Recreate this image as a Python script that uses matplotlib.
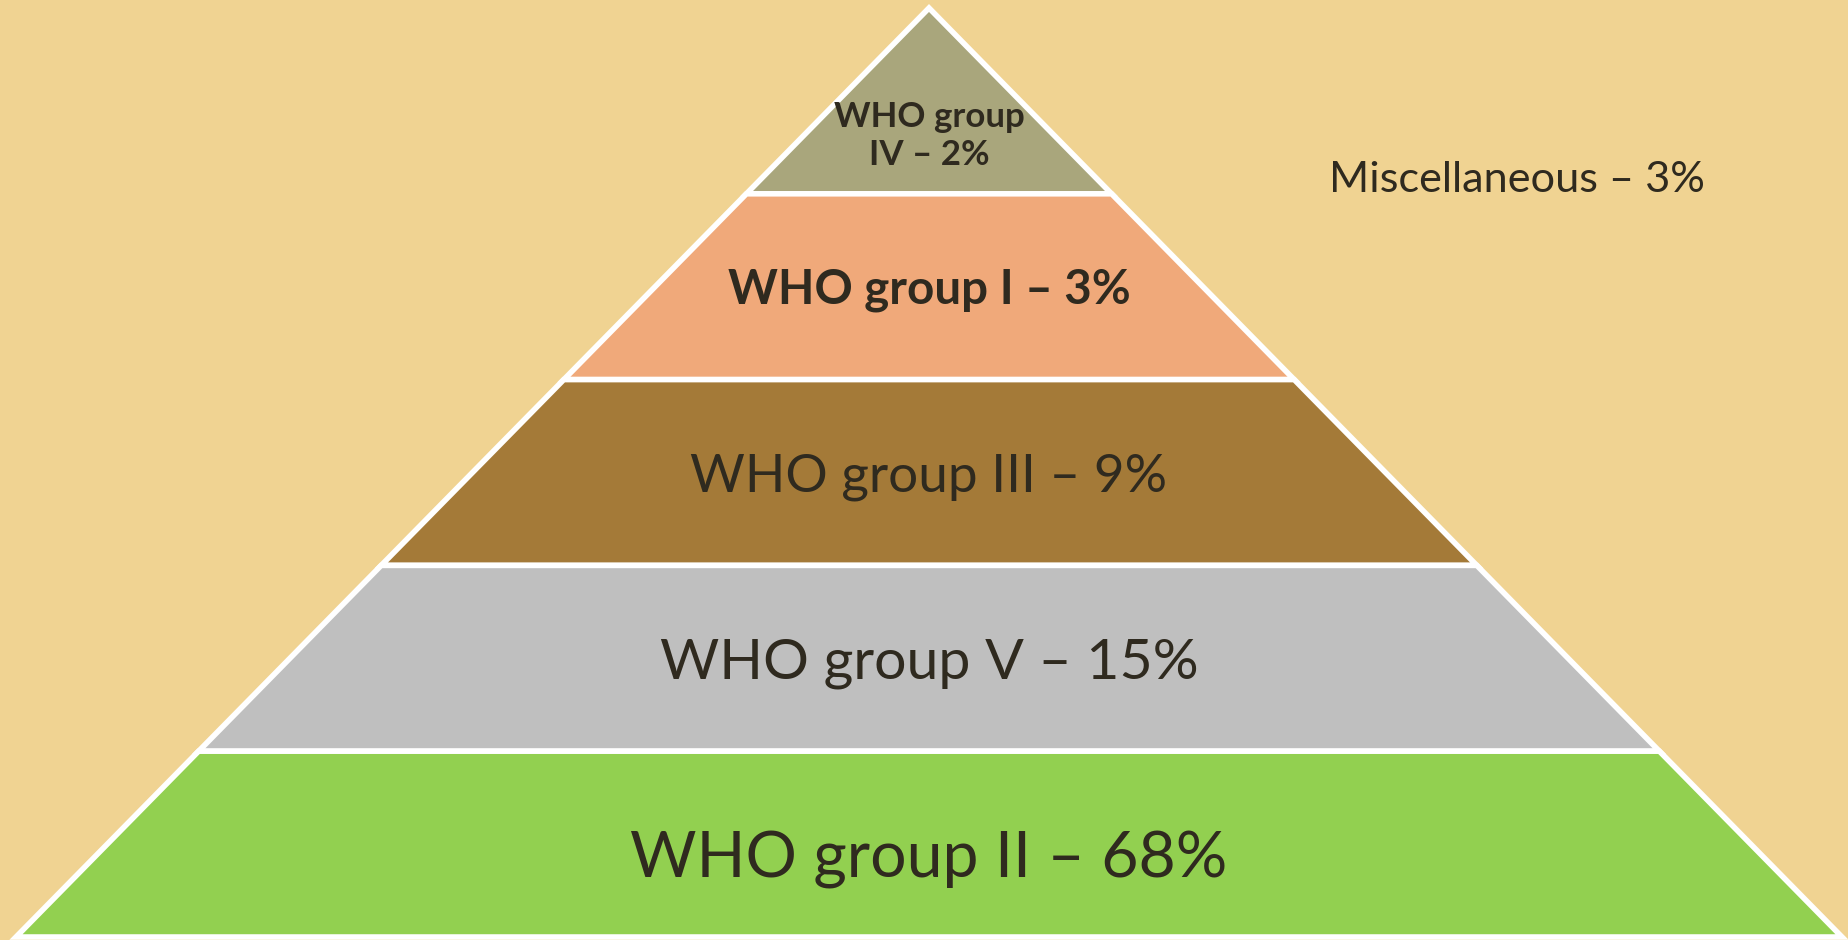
import matplotlib.pyplot as plt

# layers from the top of the pyramid down
groups = ["IV", "I", "III", "V", "II"]
shares = [2, 3, 9, 15, 68]
misc_share = 3

colors = ["#A9A67C", "#F0A97A", "#A47A38", "#BFBFBF", "#92D050"]
bold = [True, True, False, False, False]
cap_px = [25, 34, 38, 41, 46]   # cap height of each label in pixels
bg = "#F0D392"
txt = "#2F2A1F"

W, H = 1849, 940
fig = plt.figure(figsize=(W / 100, H / 100), dpi=100)
fig.patch.set_facecolor(bg)
ax = fig.add_axes([0, 0, 1, 1])
ax.set_xlim(0, W)
ax.set_ylim(H, 0)
ax.axis("off")

apex_x, apex_y = 929, 8
base_y, half_base = 937, 913
band_h = (base_y - apex_y) / len(groups)


def half_width(y):
    return (y - apex_y) * half_base / (base_y - apex_y)


def px2pt(p):
    # cap height in px -> Lato font size in points
    return p / 0.7165 * 0.72


for i, (g, s) in enumerate(zip(groups, shares)):
    y0 = apex_y + i * band_h
    y1 = y0 + band_h
    w0, w1 = half_width(y0), half_width(y1)
    xs = [apex_x - w0, apex_x + w0, apex_x + w1, apex_x - w1]
    ys = [y0, y0, y1, y1]
    ax.fill(xs, ys, facecolor=colors[i], edgecolor="white", linewidth=4,
            joinstyle="miter")

    fw = "bold" if bold[i] else "normal"
    size = px2pt(cap_px[i])
    if i == 0:
        # the top triangle is too narrow, split the label on two lines
        ax.text(apex_x, y0 + band_h * 0.69, f"WHO group\n{g} \u2013 {s}%",
                ha="center", va="center", fontsize=size, fontweight=fw,
                color=txt, family="Lato", linespacing=1.25)
    else:
        yc = (y0 + y1) / 2 + cap_px[i] / 2
        if i == len(groups) - 1:
            yc += 10
        ax.text(apex_x, yc, f"WHO group {g} \u2013 {s}%", ha="center",
                va="baseline", fontsize=size, fontweight=fw, color=txt,
                family="Lato")

ax.text(1517, 192, f"Miscellaneous \u2013 {misc_share}%", ha="center",
        va="baseline", fontsize=px2pt(31), color=txt, family="Lato")

plt.savefig("out.png", dpi=100, facecolor=bg)
plt.close()
